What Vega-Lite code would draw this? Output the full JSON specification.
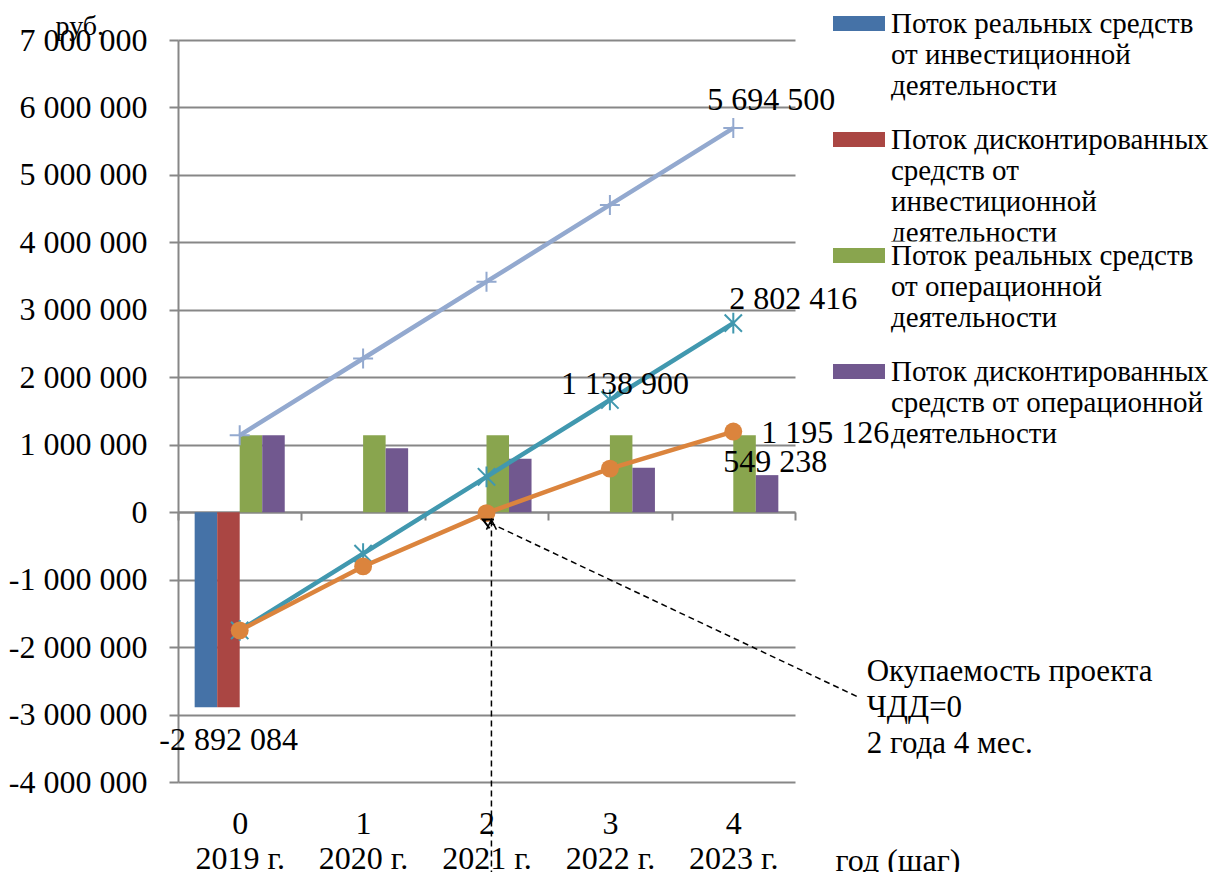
{
  "$schema": "https://vega.github.io/schema/vega-lite/v6.json",
  "width": 617,
  "height": 742,
  "autosize": {"type": "none"},
  "padding": {"left": 178, "top": 40, "right": 421, "bottom": 90},
  "background": "white",
  "config": {
    "view": {"stroke": null},
    "font": "Liberation Serif",
    "locale": {"number": {"decimal": ",", "thousands": " ", "grouping": [3], "currency": ["", ""], "minus": "-"}},
    "axis": {"labelFont": "Liberation Serif", "titleFont": "Liberation Serif", "labelColor": "black", "titleColor": "black", "titleFontWeight": "normal"},
    "text": {"font": "Liberation Serif", "color": "black"}
  },
  "datasets": {
    "bars": [
      {"period": "0|2019 г.", "series": "Поток реальных средств|от инвестиционной|деятельности", "value": -2892084},
      {"period": "0|2019 г.", "series": "Поток дисконтированных|средств от|инвестиционной|деятельности", "value": -2892084},
      {"period": "0|2019 г.", "series": "Поток реальных средств|от операционной|деятельности", "value": 1138900},
      {"period": "0|2019 г.", "series": "Поток дисконтированных|средств от операционной|деятельности", "value": 1138900},
      {"period": "1|2020 г.", "series": "Поток реальных средств|от операционной|деятельности", "value": 1138900},
      {"period": "1|2020 г.", "series": "Поток дисконтированных|средств от операционной|деятельности", "value": 949083},
      {"period": "2|2021 г.", "series": "Поток реальных средств|от операционной|деятельности", "value": 1138900},
      {"period": "2|2021 г.", "series": "Поток дисконтированных|средств от операционной|деятельности", "value": 790903},
      {"period": "3|2022 г.", "series": "Поток реальных средств|от операционной|деятельности", "value": 1138900},
      {"period": "3|2022 г.", "series": "Поток дисконтированных|средств от операционной|деятельности", "value": 659086},
      {"period": "4|2023 г.", "series": "Поток реальных средств|от операционной|деятельности", "value": 1138900},
      {"period": "4|2023 г.", "series": "Поток дисконтированных|средств от операционной|деятельности", "value": 549238}
    ],
    "cumReal": [
      {"step": 0, "value": 1138900},
      {"step": 1, "value": 2277800},
      {"step": 2, "value": 3416700},
      {"step": 3, "value": 4555600},
      {"step": 4, "value": 5694500}
    ],
    "cumNet": [
      {"step": 0, "value": -1753184},
      {"step": 1, "value": -614284},
      {"step": 2, "value": 524616},
      {"step": 3, "value": 1663516},
      {"step": 4, "value": 2802416}
    ],
    "cumDisc": [
      {"step": 0, "value": -1753184},
      {"step": 1, "value": -804101},
      {"step": 2, "value": -13198},
      {"step": 3, "value": 645888},
      {"step": 4, "value": 1195126}
    ]
  },
  "encoding": {
    "y": {
      "field": "value", "type": "quantitative",
      "scale": {"domain": [-4000000, 7000000], "nice": false, "zero": false},
      "axis": {
        "title": "руб.", "titleAngle": 0, "titleAlign": "left", "titleBaseline": "alphabetic",
        "titleX": -123, "titleY": -6, "titleFontSize": 28, "titleFontWeight": "normal",
        "values": [-4000000, -3000000, -2000000, -1000000, 0, 1000000, 2000000, 3000000, 4000000, 5000000, 6000000, 7000000],
        "format": ",d", "labelFontSize": 32, "labelPadding": 22, "tickSize": 9,
        "tickColor": "#878787", "tickWidth": 2, "domainColor": "#878787", "domainWidth": 2,
        "grid": true, "gridColor": "#878787", "gridWidth": 2, "labelOverlap": false
      }
    }
  },
  "layer": [
    {
      "data": {"name": "bars"},
      "mark": {"type": "bar"},
      "encoding": {
        "x": {
          "field": "period", "type": "nominal",
          "scale": {"domain": ["0|2019 г.", "1|2020 г.", "2|2021 г.", "3|2022 г.", "4|2023 г."], "paddingInner": 0, "paddingOuter": 0},
          "axis": {
            "title": "год (шаг)", "titleX": 657, "titleY": 358, "titleAlign": "left", "titleBaseline": "alphabetic",
            "titleFontSize": 32, "titleFontWeight": "normal",
            "offset": -270, "labelAngle": 0, "labelExpr": "split(datum.label, '|')",
            "labelFontSize": 32, "labelLineHeight": 35, "labelBaseline": "top", "labelPadding": 288,
            "tickSize": 8, "tickBand": "extent", "tickColor": "#878787", "tickWidth": 2,
            "domainColor": "#878787", "domainWidth": 2, "grid": false, "labelOverlap": false
          }
        },
        "xOffset": {
          "field": "series", "type": "nominal",
          "scale": {"domain": ["Поток реальных средств|от инвестиционной|деятельности", "Поток дисконтированных|средств от|инвестиционной|деятельности", "Поток реальных средств|от операционной|деятельности", "Поток дисконтированных|средств от операционной|деятельности"], "paddingInner": 0, "paddingOuter": 0.74}
        },
        "color": {
          "field": "series", "type": "nominal",
          "scale": {"domain": ["Поток реальных средств|от инвестиционной|деятельности", "Поток дисконтированных|средств от|инвестиционной|деятельности", "Поток реальных средств|от операционной|деятельности", "Поток дисконтированных|средств от операционной|деятельности"], "range": ["#4572A7", "#AA4643", "#89A54E", "#71588F"]},
          "legend": {
            "title": null, "orient": "none", "legendX": 655, "legendY": -30.5, "padding": 0,
            "symbolType": "M-1,-0.29H1V0.29H-1Z", "symbolSize": 2704, "symbolStrokeWidth": 0, "symbolOpacity": 1,
            "labelFont": "Liberation Serif", "labelFontSize": 29, "labelLineHeight": 33.5, "labelLimit": 400,
            "labelOffset": 6, "labelColor": "black", "labelBaseline": "alphabetic",
            "labelExpr": "split(datum.label, '|')",
            "clipHeight": 116, "rowPadding": 0,
            "encode": {
              "symbols": {"update": {"y": {"value": 14}}},
              "labels": {"update": {"y": {"value": 23.5}}},
              "entries": {"update": {"clip": {"value": true}, "width": {"value": 420}, "height": {"value": 116}}}
            }
          }
        }
      }
    },
    {
      "encoding": {
        "x": {"field": "step", "type": "quantitative", "scale": {"domain": [-0.5, 4.5], "nice": false, "zero": false}, "axis": null}
      },
      "layer": [
        {"data": {"name": "cumReal"}, "mark": {"type": "line", "color": "#93A9CF", "strokeWidth": 4.5}},
        {"data": {"name": "cumReal"}, "mark": {"type": "point", "shape": "M-1,0H1M0,-1V1", "filled": false, "color": "#93A9CF", "strokeWidth": 2, "size": 400, "opacity": 1}},
        {"data": {"name": "cumNet"}, "mark": {"type": "line", "color": "#4198AF", "strokeWidth": 4.5}},
        {"data": {"name": "cumNet"}, "mark": {"type": "point", "shape": "M-1,-1L1,1M-1,1L1,-1M0,-1.2V1.2", "filled": false, "color": "#4198AF", "strokeWidth": 2, "size": 300, "opacity": 1}},
        {"data": {"name": "cumDisc"}, "mark": {"type": "line", "color": "#DB843D", "strokeWidth": 4.5}},
        {"data": {"name": "cumDisc"}, "mark": {"type": "point", "shape": "circle", "filled": true, "color": "#DB843D", "size": 320, "opacity": 1}},
        {"data": {"values": [{"step": 4, "value": 5694500, "label": "5 694 500"}]}, "mark": {"type": "text", "fontSize": 32, "dx": 38, "dy": -28, "align": "center", "baseline": "middle"}, "encoding": {"text": {"field": "label"}}},
        {"data": {"values": [{"step": 4, "value": 2802416, "label": "2 802 416"}]}, "mark": {"type": "text", "fontSize": 32, "dx": 60, "dy": -24, "align": "center", "baseline": "middle"}, "encoding": {"text": {"field": "label"}}},
        {"data": {"values": [{"step": 3, "value": 1138900, "label": "1 138 900"}]}, "mark": {"type": "text", "fontSize": 32, "dx": 15, "dy": -51, "align": "center", "baseline": "middle"}, "encoding": {"text": {"field": "label"}}},
        {"data": {"values": [{"step": 4, "value": 1195126, "label": "1 195 126"}]}, "mark": {"type": "text", "fontSize": 32, "dx": 92, "dy": 1, "align": "center", "baseline": "middle"}, "encoding": {"text": {"field": "label"}}},
        {"data": {"values": [{"step": 4, "value": 549238, "label": "549 238"}]}, "mark": {"type": "text", "fontSize": 32, "dx": 42, "dy": -13, "align": "center", "baseline": "middle"}, "encoding": {"text": {"field": "label"}}},
        {"data": {"values": [{"step": 0, "value": -2892084, "label": "-2 892 084"}]}, "mark": {"type": "text", "fontSize": 32, "dx": -11, "dy": 33, "align": "center", "baseline": "middle"}, "encoding": {"text": {"field": "label"}}},
        {"data": {"values": [{"step": 5.0, "value": -2730000, "step2": 1.97, "value2": -110000}, {"step": 2.04, "value": -5400000, "step2": 2.04, "value2": -110000}]},
         "mark": {"type": "rule", "color": "black", "strokeWidth": 1.5, "strokeDash": [6, 4]},
         "encoding": {"x2": {"field": "step2"}, "y2": {"field": "value2"}}},
        {"data": {"values": [{"step": 2.04, "value": -110000}]}, "mark": {"type": "point", "shape": "M-0.5,1L0,0L0.5,1", "filled": false, "color": "black", "strokeWidth": 1.5, "size": 400, "opacity": 1, "angle": 0}},
        {"data": {"values": [{"step": 1.97, "value": -110000}]}, "mark": {"type": "point", "shape": "M-0.5,1L0,0L0.5,1", "filled": false, "color": "black", "strokeWidth": 2, "size": 400, "opacity": 1, "angle": -64}},
        {"data": {"values": [{"step": 5.0, "value": -2730000, "label": "Окупаемость проекта\nЧДД=0\n2 года 4 мес."}]}, "mark": {"type": "text", "fontSize": 31, "lineBreak": "\n", "lineHeight": 36, "dx": 10, "dy": -24, "align": "left", "baseline": "middle"}, "encoding": {"text": {"field": "label"}}}
      ]
    }
  ],
  "resolve": {"scale": {"x": "independent"}, "axis": {"x": "independent"}}
}
